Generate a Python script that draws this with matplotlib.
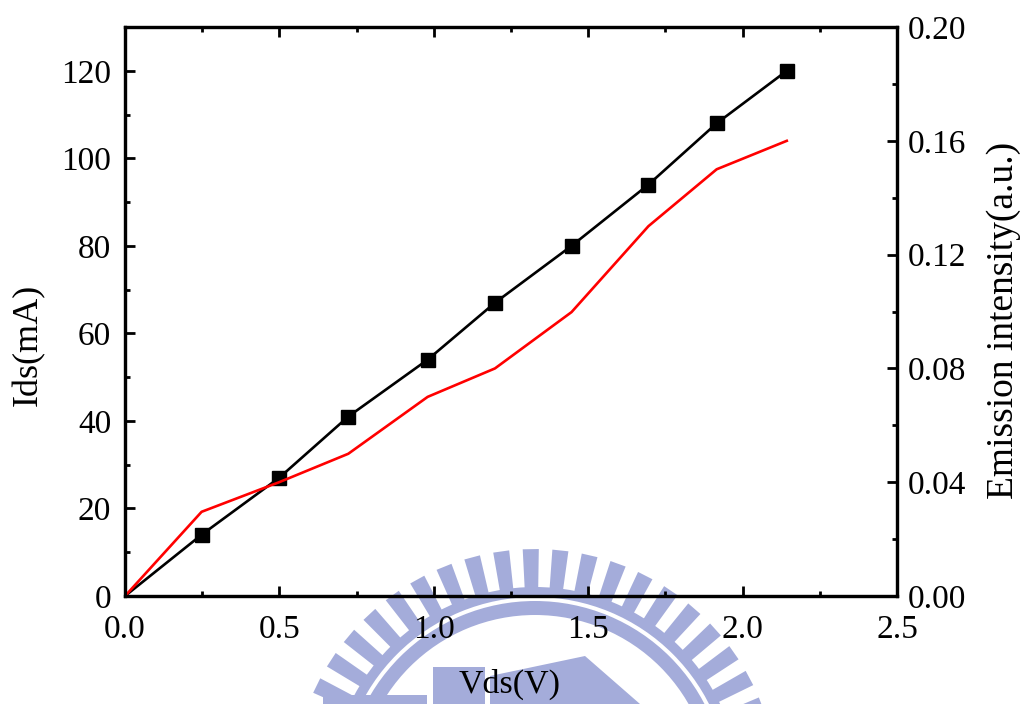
import numpy as np
import matplotlib
matplotlib.use("Agg")
import matplotlib.pyplot as plt
from matplotlib.patches import Polygon, Wedge

# data
vds = [0.0, 0.248, 0.499, 0.723, 0.98, 1.198, 1.446, 1.695, 1.916, 2.143]
ids_ma = [0, 14, 27, 41, 54, 67, 80, 94, 108, 120]
emission = [0.0, 0.0296, 0.040, 0.050, 0.070, 0.080, 0.0998, 0.130, 0.150, 0.160]

plt.rcParams['font.family'] = ['Liberation Serif', 'DejaVu Serif']

fig = plt.figure(figsize=(10.24, 7.04), dpi=100)

# faint watermark in the background (pixel coordinates)
bg = fig.add_axes([0, 0, 1, 1], zorder=-5)
bg.set_xlim(0, 1024)
bg.set_ylim(704, 0)
bg.axis('off')
wm = '#a4acda'
cx, cy = 535, 792
for ang in np.arange(0, 360, 7.0):
    a1 = np.radians(ang - 1.9)
    a2 = np.radians(ang + 1.9)
    r1, r2 = 203, 243
    pts = [(cx + r1 * np.cos(a1), cy - r1 * np.sin(a1)),
           (cx + r2 * np.cos(a1), cy - r2 * np.sin(a1)),
           (cx + r2 * np.cos(a2), cy - r2 * np.sin(a2)),
           (cx + r1 * np.cos(a2), cy - r1 * np.sin(a2))]
    bg.add_patch(Polygon(pts, closed=True, color=wm, lw=0))
bg.add_patch(Wedge((cx, cy), 205, 0, 360, width=10, color=wm, lw=0))
bg.add_patch(Wedge((cx, cy), 191, 0, 360, width=14, color=wm, lw=0))
bg.add_patch(Polygon([(433, 667), (485, 667), (485, 704), (433, 704)], color=wm, lw=0))
bg.add_patch(Polygon([(490, 676), (585, 656), (640, 704), (490, 704)], color=wm, lw=0))
bg.add_patch(Polygon([(323, 695), (427, 695), (427, 704), (323, 704)], color=wm, lw=0))

ax = fig.add_axes([0.1221, 0.1534, 0.7539, 0.8082])
ax.patch.set_visible(False)
ax2 = ax.twinx()

ax.plot(vds, ids_ma, color='black', lw=1.9, marker='s', markersize=10,
        markevery=list(range(1, len(vds))), zorder=3)
ax2.plot(vds, emission, color='red', lw=1.9)

ax.set_xlim(0, 2.5)
ax.set_ylim(0, 130)
ax2.set_ylim(0, 0.20)

ax.set_xticks(np.arange(0, 2.51, 0.5))
ax.set_xticks(np.arange(0.25, 2.5, 0.5), minor=True)
ax.set_yticks(np.arange(0, 121, 20))
ax.set_yticks(np.arange(10, 130, 20), minor=True)
ax2.set_yticks(np.arange(0, 0.201, 0.04))
ax2.set_yticks(np.arange(0.02, 0.2, 0.04), minor=True)
ax.set_xticklabels(['0.0', '0.5', '1.0', '1.5', '2.0', '2.5'])
ax2.set_yticklabels(['0.00', '0.04', '0.08', '0.12', '0.16', '0.20'])

ax.tick_params(axis='x', which='major', direction='in', length=7.5, width=2,
               labelsize=24, top=True, pad=13)
ax.tick_params(axis='y', which='major', direction='in', length=7.5, width=2,
               labelsize=24, right=False, pad=10)
ax.tick_params(axis='both', which='minor', direction='in', length=3.5, width=2,
               top=True, right=False)
ax2.tick_params(axis='y', which='major', direction='in', length=7.5, width=2,
                labelsize=24, pad=8)
ax2.tick_params(axis='y', which='minor', direction='in', length=3.5, width=2)

for a in (ax, ax2):
    for s in a.spines.values():
        s.set_linewidth(2.3)

ax.set_xlabel('Vds(V)', fontsize=24.5)
ax.xaxis.set_label_coords(0.4987, -0.128)
ax.set_ylabel('Ids(mA)', fontsize=26)
ax.yaxis.set_label_coords(-0.1036, 0.441)
ax2.set_ylabel('Emission intensity(a.u.)', fontsize=27)
ax2.yaxis.set_label_coords(1.1153, 0.485)

plt.savefig('out.png', dpi=100)
